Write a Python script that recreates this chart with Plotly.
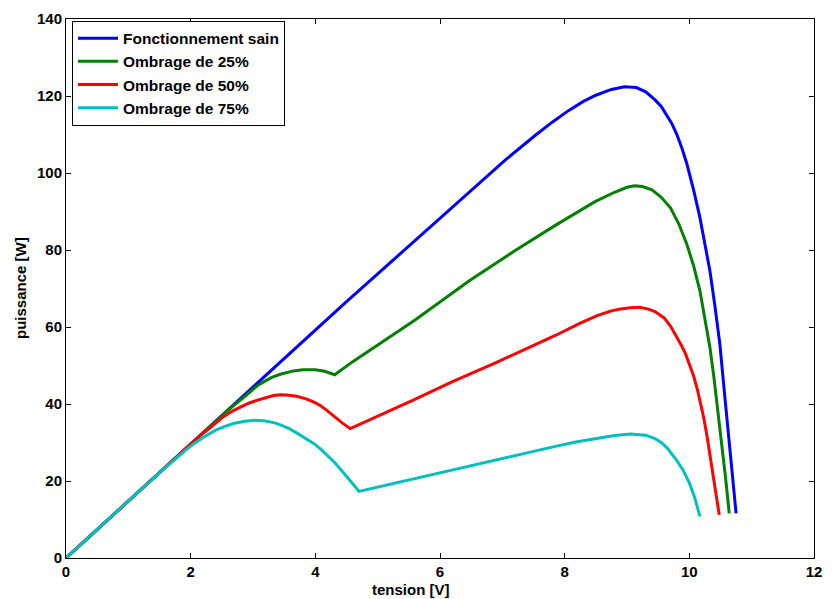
import plotly.graph_objects as go

# ---- data ----
v_sain = [0, 0.5, 1, 1.5, 2, 2.5, 3, 3.5, 3.83, 4.5, 5, 5.47, 6.1, 6.5, 7.05, 7.53,
          7.8, 8.06, 8.3, 8.5, 8.75, 8.96, 9.15, 9.3, 9.45, 9.55, 9.64, 9.72, 9.8,
          9.88, 9.96, 10.07, 10.17, 10.25, 10.33, 10.41, 10.49, 10.56, 10.62, 10.68,
          10.75]
p_sain = [0, 7.4, 14.9, 22.3, 29.7, 37.1, 44.5, 51.9, 56.9, 66.6, 73.8, 80.6, 89.8,
          95.6, 103.4, 109.8, 113.2, 116.2, 118.6, 120.2, 121.7, 122.4, 122.2, 121.1,
          119.0, 117.3, 115.1, 112.8, 110.0, 106.5, 102.4, 95.5, 88.4, 81.8, 74.6,
          65.5, 55.5, 43.5, 33.5, 23.3, 11.6]

v_25 = [0, 0.5, 1, 1.5, 2, 2.3, 2.6, 2.9, 3.08, 3.2, 3.3, 3.45, 3.55, 3.65, 3.8,
        4.0, 4.15, 4.31, 4.6, 5.1, 5.6, 6.47, 7.2, 7.85, 8.16, 8.48, 8.8, 9.0, 9.12,
        9.25, 9.4, 9.55, 9.7, 9.83, 9.96, 10.07, 10.17, 10.25, 10.33, 10.39, 10.45,
        10.52, 10.58, 10.64]
p_25 = [0, 7.4, 14.9, 22.3, 29.7, 34.1, 38.4, 42.4, 44.9, 46.0, 46.9, 47.8, 48.3,
        48.6, 48.9, 48.9, 48.5, 47.6, 51.0, 56.5, 61.8, 72, 79.8, 86.4, 89.5, 92.5,
        95.0, 96.3, 96.7, 96.5, 95.6, 93.7, 90.9, 86.8, 81.5, 75.8, 69.4, 62.5,
        54.7, 47.5, 39.5, 30.0, 21.0, 11.6]

v_50 = [0, 0.5, 1, 1.5, 2, 2.15, 2.33, 2.5, 2.66, 2.8, 2.93, 3.07, 3.2, 3.33, 3.45,
        3.58, 3.7, 3.84, 3.98, 4.08, 4.18, 4.3, 4.43, 4.56, 5.0, 5.57, 6.2, 6.89,
        7.85, 8.25, 8.53, 8.75, 8.9, 9.05, 9.2, 9.33, 9.45, 9.6, 9.7, 9.8, 9.88,
        9.94, 10.0, 10.07, 10.13, 10.18, 10.23, 10.28, 10.33, 10.38, 10.43, 10.48]
p_50 = [0, 7.4, 14.9, 22.3, 29.7, 31.8, 34.1, 36.4, 38.1, 39.3, 40.2, 41.0, 41.7,
        42.2, 42.4, 42.3, 42.0, 41.4, 40.5, 39.6, 38.4, 36.8, 35.1, 33.6, 36.8,
        41.0, 45.8, 50.7, 57.8, 61.0, 63.0, 64.2, 64.7, 65.0, 65.1, 64.7, 64.0,
        62.3, 60.2, 57.5, 55.0, 53.0, 50.5, 47.2, 43.7, 40.3, 36.5, 32.0, 27.0,
        21.8, 16.5, 11.2]

v_75 = [0, 0.5, 1, 1.5, 1.92, 2.05, 2.2, 2.4, 2.55, 2.7, 2.87, 3.03, 3.2, 3.35,
        3.45, 3.58, 3.7, 3.84, 3.98, 4.1, 4.2, 4.31, 4.41, 4.5, 4.6, 4.7, 5.5, 6.2,
        6.89, 7.85, 8.2, 8.5, 8.8, 9.06, 9.3, 9.45, 9.55, 9.65, 9.8, 9.9, 10.0,
        10.08, 10.17]
p_75 = [0, 7.4, 14.9, 22.2, 28.0, 29.7, 31.3, 33.2, 34.2, 35.0, 35.5, 35.8, 35.6,
        35.1, 34.5, 33.6, 32.5, 31.2, 29.7, 28.1, 26.6, 24.8, 22.9, 21.3, 19.3,
        17.3, 20.3, 22.9, 25.4, 29.0, 30.2, 31.1, 31.8, 32.2, 31.9, 31.0, 30.0,
        28.5, 25.3, 22.8, 19.5, 16.0, 10.8]

series = [
    ("Fonctionnement sain", v_sain, p_sain, "#0000FF"),
    ("Ombrage de 25%", v_25, p_25, "#008000"),
    ("Ombrage de 50%", v_50, p_50, "#FF0000"),
    ("Ombrage de 75%", v_75, p_75, "#00BFBF"),
]

x_ticks = [0, 2, 4, 6, 8, 10, 12]
y_ticks = [0, 20, 40, 60, 80, 100, 120, 140]

FONT = "Liberation Sans, Arial, Helvetica, sans-serif"

fig = go.Figure()
for name, xs, ys, col in series:
    fig.add_trace(go.Scatter(x=xs, y=ys, mode="lines", name=name,
                             line=dict(color=col, width=3)))

axis_common = dict(
    showgrid=False, zeroline=False, showline=True, linecolor="black", linewidth=1,
    mirror="ticks", ticks="inside", ticklen=5, tickcolor="black", tickwidth=1,
    tickfont=dict(family=FONT, size=15, color="black", weight="bold"),
)

fig.update_xaxes(range=[0, 12], tickvals=x_ticks, ticktext=[str(t) for t in x_ticks],
                 **axis_common)
fig.update_yaxes(range=[0, 140], tickvals=y_ticks, ticktext=[str(t) for t in y_ticks],
                 **axis_common)

fig.update_layout(
    width=832, height=599,
    margin=dict(l=66, r=10, t=17, b=41),
    paper_bgcolor="white", plot_bgcolor="white",
    showlegend=True,
    legend=dict(x=0.008, y=0.997, xanchor="left", yanchor="top",
                bgcolor="white", bordercolor="black", borderwidth=1,
                font=dict(family=FONT, size=15.5, color="black", weight="bold"),
                tracegroupgap=0, itemwidth=40),
    annotations=[
        dict(text="tension [V]", xref="paper", yref="paper", x=0.4616, y=-0.059,
             xanchor="center", yanchor="middle", showarrow=False,
             font=dict(family=FONT, size=15, color="black", weight="bold")),
        dict(text="puissance [W]", xref="paper", yref="paper", x=-0.0608, y=0.5,
             xanchor="center", yanchor="middle", showarrow=False, textangle=-90,
             font=dict(family=FONT, size=15, color="black", weight="bold")),
    ],
)

fig.write_html("out.html")
